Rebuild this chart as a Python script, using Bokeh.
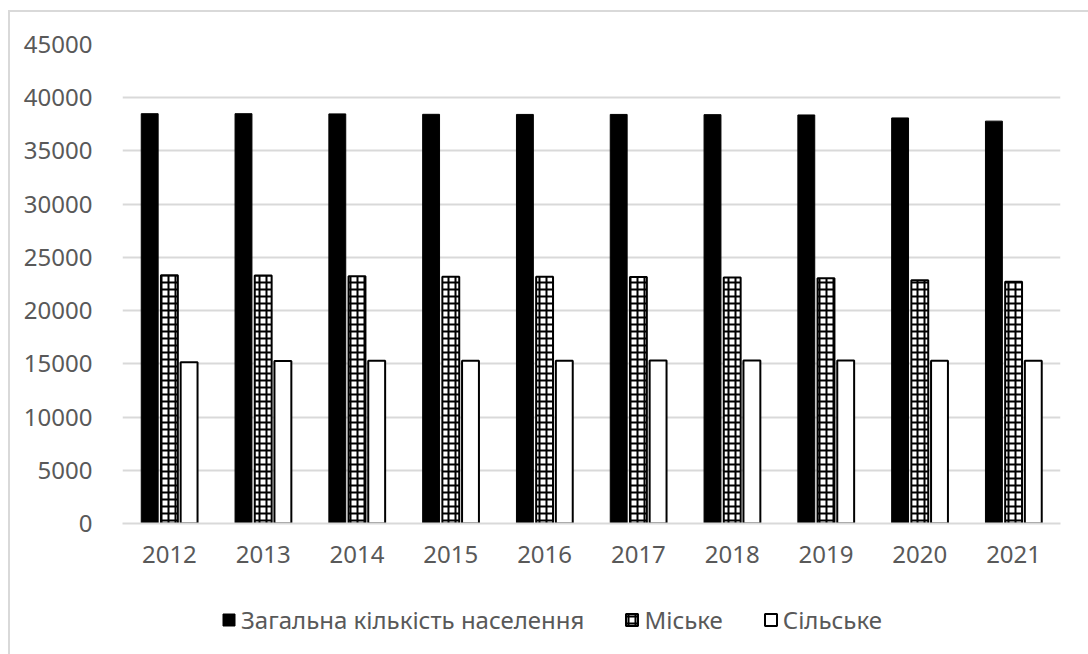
from bokeh.plotting import figure
from bokeh.models import ColumnDataSource, FactorRange, Legend, LegendItem, SingleIntervalTicker, NumeralTickFormatter
from bokeh.layouts import column
from bokeh.transform import dodge
from bokeh.embed import file_html
from bokeh.resources import INLINE

years = ["2012", "2013", "2014", "2015", "2016", "2017", "2018", "2019", "2020", "2021"]
total = [38500, 38500, 38480, 38440, 38430, 38430, 38410, 38380, 38100, 37800]
urban = [23330, 23290, 23230, 23190, 23170, 23160, 23100, 23050, 22860, 22700]
rural = [15150, 15260, 15280, 15290, 15300, 15310, 15310, 15320, 15290, 15280]
series_names = ["Загальна кількість населення", "Міське", "Сільське"]

src = ColumnDataSource(dict(years=years, total=total, urban=urban, rural=rural))

FONT = "Noto Sans"
TXT = "#595959"
GRID = "#d9d9d9"

STY = [dict(fill_color="black", line_color="black", line_width=1),
       dict(fill_color="white", line_color="black", line_width=2,
            hatch_pattern="cross", hatch_color="black", hatch_scale=7, hatch_weight=2),
       dict(fill_color="white", line_color="black", line_width=2)]

p = figure(width=1078, height=580, x_range=FactorRange(*years, range_padding=0),
           y_range=(0, 45000), output_backend="svg", toolbar_location=None,
           min_border_left=112, min_border_right=28, min_border_top=32, min_border_bottom=69)

p.vbar(x=dodge("years", -0.21, range=p.x_range), top="total", width=0.18, source=src, **STY[0])
p.vbar(x=dodge("years", 0.0, range=p.x_range), top="urban", width=0.18, source=src, **STY[1])
p.vbar(x=dodge("years", 0.21, range=p.x_range), top="rural", width=0.18, source=src, **STY[2])

p.outline_line_color = None
p.background_fill_color = "white"
p.border_fill_color = "white"

p.yaxis.ticker = SingleIntervalTicker(interval=5000)
p.yaxis.formatter = NumeralTickFormatter(format="0")
p.yaxis.axis_line_color = None
p.yaxis.major_tick_line_color = None
p.yaxis.minor_tick_line_color = None
p.yaxis.major_label_text_font = FONT
p.yaxis.major_label_text_font_size = "24px"
p.yaxis.major_label_text_color = TXT
p.yaxis.major_label_standoff = 24

p.xaxis.axis_line_color = GRID
p.xaxis.axis_line_width = 2
p.xaxis.major_tick_line_color = None
p.xaxis.minor_tick_line_color = None
p.xaxis.major_label_text_font = FONT
p.xaxis.major_label_text_font_size = "24px"
p.xaxis.major_label_text_color = TXT
p.xaxis.major_label_standoff = 16

p.xgrid.grid_line_color = None
p.ygrid.grid_line_color = GRID
p.ygrid.grid_line_width = 2

# legend strip (dummy renderers with no drawable value)
p2 = figure(width=1078, height=62, x_range=(0, 1), y_range=(0, 1), output_backend="svg",
            toolbar_location=None, min_border=0)
p2.axis.visible = False
p2.grid.visible = False
p2.outline_line_color = None
p2.background_fill_color = "white"
p2.border_fill_color = "white"
dummy = ColumnDataSource(dict(x=[0.5], top=[float("nan")]))
rs = [p2.vbar(x="x", top="top", width=0.1, source=dummy, **s) for s in STY]
legend = Legend(items=[LegendItem(label=n, renderers=[r]) for n, r in zip(series_names, rs)],
                orientation="horizontal", location=(99, 18),
                label_text_font=FONT, label_text_font_size="24px", label_text_color=TXT,
                glyph_width=15, glyph_height=15, spacing=40, label_standoff=5,
                border_line_color=None, background_fill_alpha=0)
p2.add_layout(legend, "center")

layout = column(p, p2, spacing=0)
layout.margin = (10, 0, 0, 8)
layout.styles = {"border-left": "2px solid #d9d9d9", "border-top": "2px solid #d9d9d9"}

open("out.html", "w").write(file_html(layout, INLINE))
